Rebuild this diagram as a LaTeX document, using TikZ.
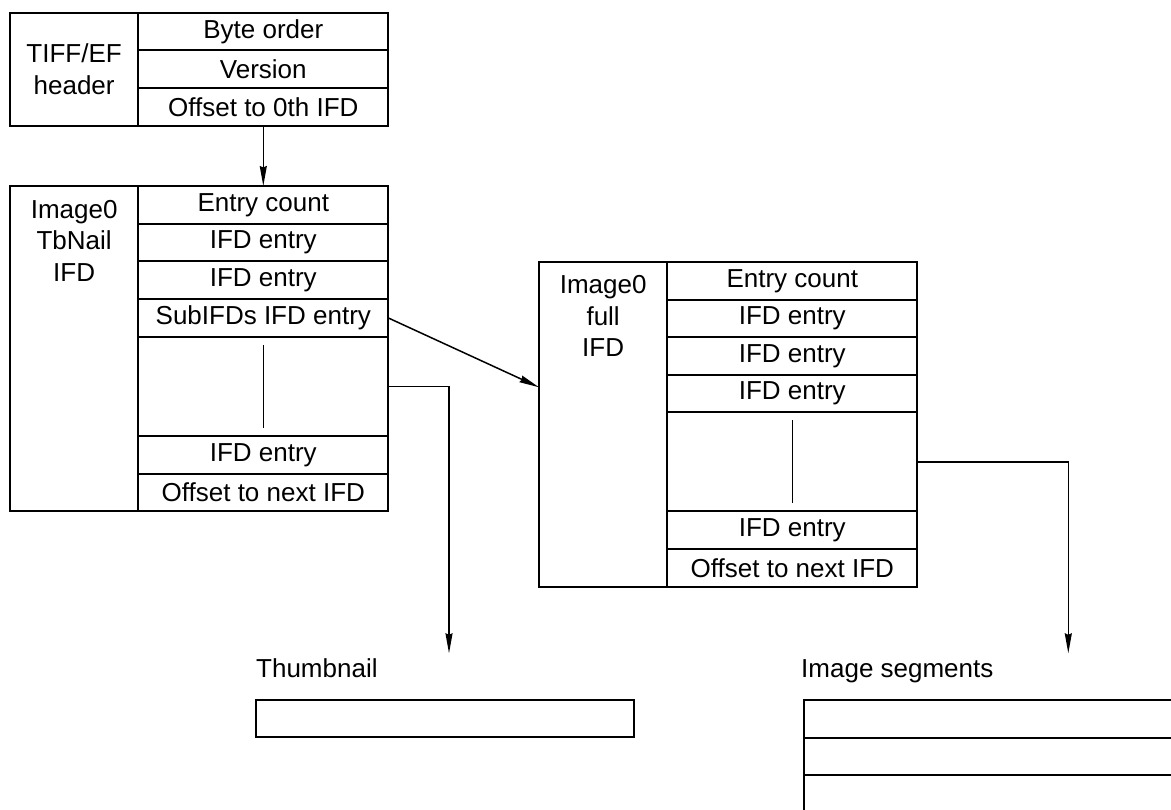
\documentclass[tikz,border=0pt]{standalone}
\usepackage{fontspec}
\setmainfont{Liberation Sans}
\usetikzlibrary{arrows.meta}

\begin{document}
\begin{tikzpicture}[x=1pt,y=-1pt]
      \newcommand{\cellw}[0]{ 250pt }
      \newcommand{\cellh}[0]{ 37.7pt }
      \newcommand{\colw}[0]{ 128.3pt }
      \tikzstyle{cell} = [draw=black,line width=2pt,inner sep=0pt,outer sep=0pt,anchor=north west,minimum width=\cellw,minimum height=\cellh,font=\fontsize{26}{31.5}\selectfont]
      \tikzstyle{side} = [cell,minimum width=\colw,align=center]
      \tikzstyle{lbl} = [inner sep=0pt,align=center,font=\fontsize{26}{31.5}\selectfont]
      \tikzstyle{link} = [line width=1.5pt,-{Stealth[length=20pt,width=7pt,inset=1.5pt]},draw=black]
      \tikzstyle{dots} = [line width=1pt,draw=black]
      \useasboundingbox (0,0) rectangle (1171,810);
      \clip (0,0) rectangle (1171,810);

      % TIFF/EF header
      \node[side,minimum height=113.3pt] (hcol) at (10,12.7) {TIFF/EF\\header};
      \node[cell] (hbyte) at (138.3,12.7) {Byte order};
      \node[cell] (hver) at (138.3,50.5) {Version};
      \node[cell] (hoff) at (138.3,88.3) {Offset to 0th IFD};

      % Image0 TbNail IFD
      \node[side,minimum height=325pt] (tcol) at (10,186) {};
      \node[lbl,below,yshift=-14pt] (tname) at (tcol.north) {Image0\\TbNail\\IFD};
      \node[cell] (tcount) at (138.3,186) {Entry count};
      \node[cell] (tent1) at (138.3,223.7) {IFD entry};
      \node[cell] (tent2) at (138.3,261.4) {IFD entry};
      \node[cell] (tsub) at (138.3,299.1) {SubIFDs IFD entry};
      \node[cell,minimum height=99.2pt] (tgap) at (138.3,336.8) {};
      \node[cell] (tentn) at (138.3,436) {IFD entry};
      \node[cell] (tnext) at (138.3,473.7) {Offset to next IFD};
      \draw[dots] ([yshift=-8pt]tgap.north) -- ([yshift=8pt]tgap.south);

      % Image0 full IFD
      \node[side,minimum height=324.6pt] (fcol) at (539,262) {};
      \node[lbl,below,yshift=-13.5pt] (fname) at (fcol.north) {Image0\\full\\IFD};
      \node[cell] (fcount) at (667.3,262) {Entry count};
      \node[cell] (fent1) at (667.3,299.6) {IFD entry};
      \node[cell] (fent2) at (667.3,337.2) {IFD entry};
      \node[cell] (fent3) at (667.3,374.8) {IFD entry};
      \node[cell,minimum height=99pt] (fgap) at (667.3,412.4) {};
      \node[cell] (fentn) at (667.3,511.4) {IFD entry};
      \node[cell] (fnext) at (667.3,549) {Offset to next IFD};
      \draw[dots] ([yshift=-8pt]fgap.north) -- ([yshift=8pt]fgap.south);

      % data
      \node[lbl,anchor=base west] (thumbname) at (256,677.5) {Thumbnail};
      \node[cell,minimum width=378.3pt,minimum height=37.3pt] (thumb) at (255.7,700) {};
      \node[lbl,anchor=base west] (segname) at (801,677.5) {Image segments};
      \node[cell,minimum width=420pt] (seg1) at (804,700) {};
      \node[cell,minimum width=420pt] (seg2) at (804,737.7) {};
      \node[cell,minimum width=420pt,minimum height=60pt] (seg3) at (804,775.4) {};

      \coordinate (thumbin) at (449,653.3);
      \coordinate (segin) at (1068.3,653.3);
      \draw[link] (hoff) -- (tcount);
      \draw[link] (tsub.east) -- (fcol.150);
      \draw[link] (tgap.east) -| (thumbin);
      \draw[link] (fgap.east) -| (segin);
    \end{tikzpicture}
\end{document}
